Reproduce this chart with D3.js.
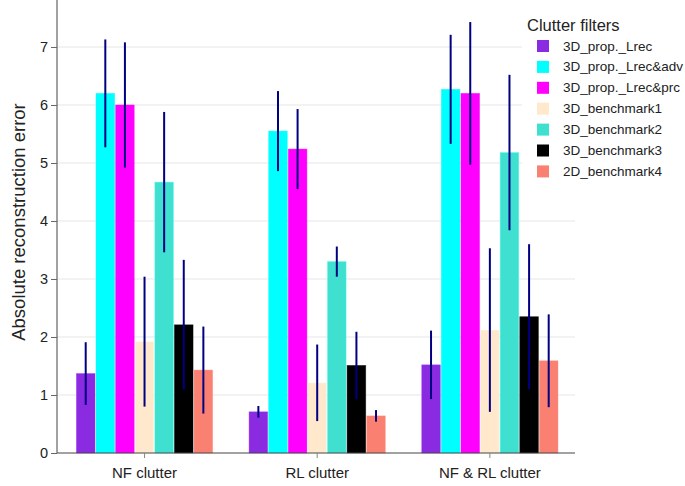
<!DOCTYPE html>
<html><head><meta charset="utf-8">
<script src="https://cdn.jsdelivr.net/npm/d3@7"></script>
<style>body{margin:0;background:#fff;} text{font-family:"Liberation Sans",Arial,sans-serif;}</style>
</head><body>
<svg id="c" width="685" height="486"></svg>
<script>
const categories = ["NF clutter", "RL clutter", "NF & RL clutter"];
const seriesNames = ["3D_prop._Lrec","3D_prop._Lrec&adv","3D_prop._Lrec&prc","3D_benchmark1","3D_benchmark2","3D_benchmark3","2D_benchmark4"];
const seriesColors = ["#8A2BE2","#00FFFF","#FF00FF","#FFE8CC","#40E0D0","#000000","#FA8072"];
// values[series][category]
const values = [
  [1.37, 0.71, 1.52],
  [6.20, 5.55, 6.27],
  [6.00, 5.24, 6.20],
  [1.92, 1.21, 2.12],
  [4.67, 3.30, 5.18],
  [2.21, 1.51, 2.35],
  [1.43, 0.64, 1.59]
];
const errors = [
  [0.54, 0.10, 0.59],
  [0.93, 0.69, 0.94],
  [1.08, 0.69, 1.23],
  [1.12, 0.66, 1.41],
  [1.21, 0.26, 1.34],
  [1.12, 0.58, 1.25],
  [0.75, 0.10, 0.80]
];
const yTicks = [0,1,2,3,4,5,6,7];

const svg = d3.select("#c");
const L = 57, R = 575, T = 0, B = 453;
const x0 = d3.scaleBand().domain(categories).range([L + 1.2, R + 1.2]).padding(0);
const groupW = x0.bandwidth() * 0.795;
const x1 = d3.scaleBand().domain(seriesNames).range([0, groupW]).padding(0);
const y = d3.scaleLinear().domain([0, 7.81]).range([B, T]);

// grid
svg.append("g").selectAll("line").data(yTicks.filter(d=>d>0)).join("line")
  .attr("x1", L).attr("x2", R).attr("y1", d=>y(d)).attr("y2", d=>y(d))
  .attr("stroke", "#e6e6e6").attr("stroke-width", 1);

// bars
const data = [];
seriesNames.forEach((s, si) => categories.forEach((c, ci) => {
  data.push({s, si, c, v: values[si][ci], e: errors[si][ci]});
}));
const gOff = (x0.bandwidth() - groupW) / 2;
svg.append("g").selectAll("rect").data(data).join("rect")
  .attr("x", d => x0(d.c) + gOff + x1(d.s) + 0.5)
  .attr("width", x1.bandwidth() - 1)
  .attr("y", d => y(d.v))
  .attr("height", d => B - y(d.v))
  .attr("fill", d => seriesColors[d.si])
  .attr("stroke", d => d3.color(seriesColors[d.si]).brighter(0.4))
  .attr("stroke-opacity", 0.5)
  .attr("stroke-width", 0.8);

// error bars
svg.append("g").selectAll("line").data(data).join("line")
  .attr("x1", d => x0(d.c) + gOff + x1(d.s) + x1.bandwidth()/2)
  .attr("x2", d => x0(d.c) + gOff + x1(d.s) + x1.bandwidth()/2)
  .attr("y1", d => y(d.v + d.e))
  .attr("y2", d => y(d.v - d.e))
  .attr("stroke", "#000080").attr("stroke-width", 2);

// axes
const yAxis = d3.axisLeft(y).tickValues(yTicks).tickSize(6).tickPadding(3);
const gy = svg.append("g").attr("transform", `translate(${L},0)`).call(yAxis);
gy.select(".domain").attr("stroke", "#444").attr("d", `M0,${T}V${B}`);
gy.selectAll(".tick line").attr("stroke", "#666");
gy.selectAll(".tick text").attr("font-size", 14.5).attr("fill", "#222").attr("font-family", "Liberation Sans, Arial, sans-serif");

const xAxis = d3.axisBottom(x0).tickSize(5).tickPadding(9);
const gx = svg.append("g").attr("transform", `translate(0,${B})`).call(xAxis);
gx.select(".domain").attr("stroke", "#444").attr("d", `M${L},0H${R}`);
gx.selectAll(".tick line").attr("stroke", "#888");
gx.selectAll(".tick text").attr("font-size", 15).attr("fill", "#222").attr("font-family", "Liberation Sans, Arial, sans-serif");

// y label
svg.append("text")
  .attr("transform", `translate(25,${222}) rotate(-90)`)
  .attr("text-anchor", "middle").attr("font-size", 18.5).attr("fill", "#222")
  .text("Absolute reconstruction error");

// legend
const lg = svg.append("g");
lg.append("rect").attr("x", 522).attr("y", 8).attr("width", 160).attr("height", 175).attr("fill", "#fff");
lg.append("text").attr("x", 527).attr("y", 31).attr("font-size", 16.5).attr("fill", "#222").text("Clutter filters");
const items = lg.selectAll("g.item").data(seriesNames).join("g").attr("class","item")
  .attr("transform", (d,i) => `translate(537,${46 + i*20.9})`);
items.append("rect").attr("x", 0).attr("y", -6).attr("width", 12).attr("height", 12)
  .attr("fill", (d,i) => seriesColors[i]);
items.append("text").attr("x", 26).attr("y", 4.5).attr("font-size", 13.5).attr("fill", "#222").text(d => d);
</script>
</body></html>
